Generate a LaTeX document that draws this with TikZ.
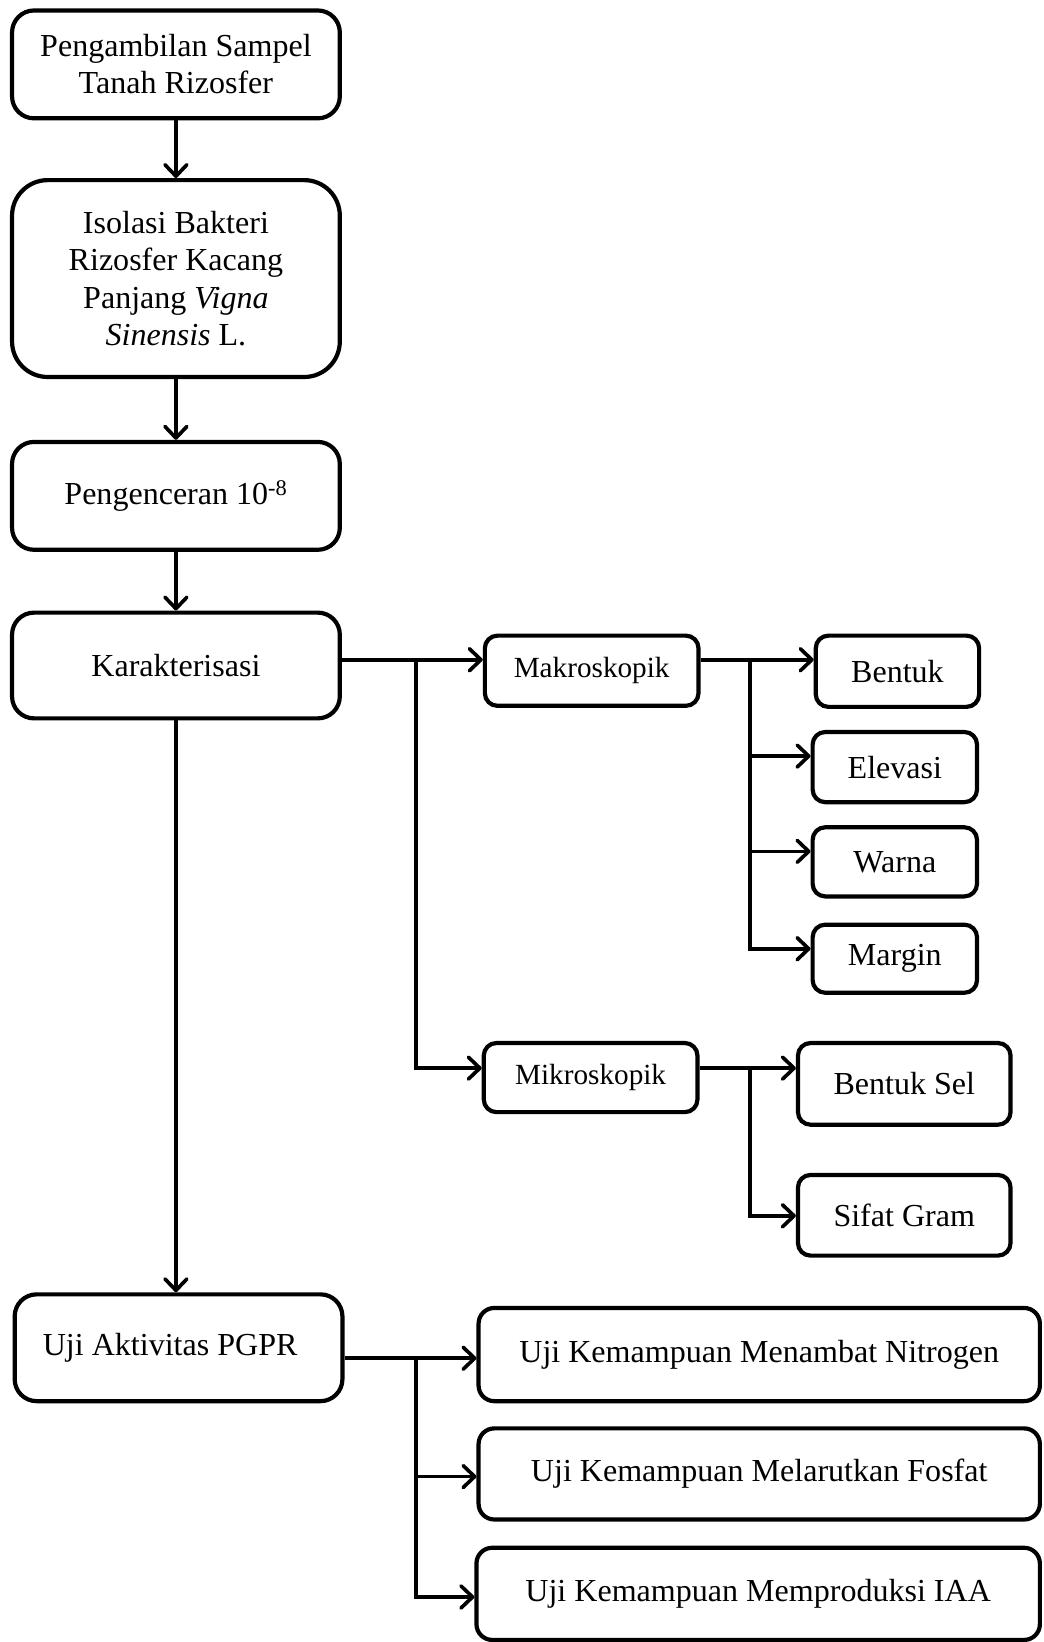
\documentclass[tikz,border=0pt]{standalone}
\usepackage{fontspec}
\setmainfont{Liberation Serif}
\usetikzlibrary{arrows.meta}

\tikzset{
  stepbox/.style={draw, line width=4pt, fill=white, align=center, inner sep=0pt,
    font=\fontsize{30.6}{35.5}\selectfont},
  bigbox/.style={stepbox, minimum width=313pt, rounded corners=21pt},
  smallbox/.style={stepbox, rounded corners=12pt},
  subbox/.style={stepbox, rounded corners=12pt, font=\fontsize{27.9}{33}\selectfont},
  wirebox/.style={stepbox, rounded corners=15pt},
  link/.style={line width=3.5pt},
  arr/.style={line width=3.5pt, -{Straight Barb[length=11pt,width=21pt,round]}},
}

\begin{document}
\begin{tikzpicture}[x=1pt, y=-1pt]
\useasboundingbox (0,0) rectangle (996,1568);

% main column
\node[bigbox, minimum height=103pt] (sampel) at (168,61.5)
  {Pengambilan Sampel\\Tanah Rizosfer};
\node[bigbox, minimum height=188pt, rounded corners=34pt] (isolasi) at (168,266)
  {Isolasi Bakteri\\Rizosfer Kacang\\Panjang \textit{Vigna}\\\textit{Sinensis} L.};
\node[bigbox, minimum height=103pt] (encer) at (168,473.5)
  {Pengenceran 10\textsuperscript{-8}};
\node[bigbox, minimum height=101pt] (karak) at (168,635.5) {Karakterisasi};
\node[bigbox, minimum height=102pt] (pgpr) at (170.5,1287)
  {Uji Aktivitas PGPR\hspace*{16pt}};

% characterisation branches
\node[subbox, minimum width=204pt, minimum height=67pt] (makro) at (565,640.5) {Makroskopik};
\node[subbox, minimum width=204pt, minimum height=66pt] (mikro) at (564,1029) {Mikroskopik};

\node[smallbox, minimum width=156pt, minimum height=68pt] (bentuk) at (857,641) {Bentuk};
\node[smallbox, minimum width=157pt, minimum height=67pt] (elevasi) at (854.5,732.5) {Elevasi};
\node[smallbox, minimum width=157pt, minimum height=66pt] (warna) at (854.5,823) {Warna};
\node[smallbox, minimum width=157pt, minimum height=65pt] (margin) at (854.5,915.5) {Margin};

\node[smallbox, minimum width=203pt, minimum height=78pt] (sel) at (863.5,1035) {Bentuk Sel};
\node[smallbox, minimum width=203pt, minimum height=77pt] (gram) at (863.5,1160.5) {Sifat Gram};

% PGPR tests
\node[wirebox, minimum width=536pt, minimum height=89pt] (nitro) at (725,1293.5)
  {Uji Kemampuan Menambat Nitrogen};
\node[wirebox, minimum width=536pt, minimum height=87pt] (fosfat) at (725,1407.5)
  {Uji Kemampuan Melarutkan Fosfat};
\node[wirebox, minimum width=538pt, minimum height=88pt] (iaa) at (724,1522)
  {Uji Kemampuan Memproduksi IAA};

% junction points
\coordinate (kj) at (397,630);
\coordinate (mk) at (397,1020);
\coordinate (mj) at (716,630);
\coordinate (mj2) at (716,722);
\coordinate (mj3) at (716,813);
\coordinate (mj4) at (716,906);
\coordinate (sj) at (716,1020);
\coordinate (sj2) at (716,1161);
\coordinate (uj) at (397,1297);
\coordinate (uj2) at (397,1410);
\coordinate (uj3) at (397,1525);

% main flow
\draw[arr] (sampel.south) -- (isolasi.north);
\draw[arr] (isolasi.south) -- (encer.north);
\draw[arr] (encer.south) -- (karak.north);
\draw[arr] (karak.south) -- (karak.south |- pgpr.north);

% Karakterisasi -> Makroskopik / Mikroskopik
\draw[link] (karak.east |- kj) -- (kj);
\draw[arr] (kj) -- (makro.west |- kj);
\draw[arr] (kj) |- (mikro.west |- mk);

% Makroskopik -> colony traits
\draw[link] (makro.east |- mj) -- (mj);
\draw[arr] (mj) -- (bentuk.west |- mj);
\draw[arr] (mj) |- (elevasi.west |- mj2);
\draw[arr] (mj) |- (warna.west |- mj3);
\draw[arr] (mj) |- (margin.west |- mj4);

% Mikroskopik -> cell traits
\draw[link] (mikro.east |- sj) -- (sj);
\draw[arr] (sj) -- (sel.west |- sj);
\draw[arr] (sj) |- (gram.west |- sj2);

% PGPR -> tests
\draw[link] (pgpr.east |- uj) -- (uj);
\draw[arr] (uj) -- (nitro.west |- uj);
\draw[arr] (uj) |- (fosfat.west |- uj2);
\draw[arr] (uj) |- (iaa.west |- uj3);
\end{tikzpicture}
\end{document}
